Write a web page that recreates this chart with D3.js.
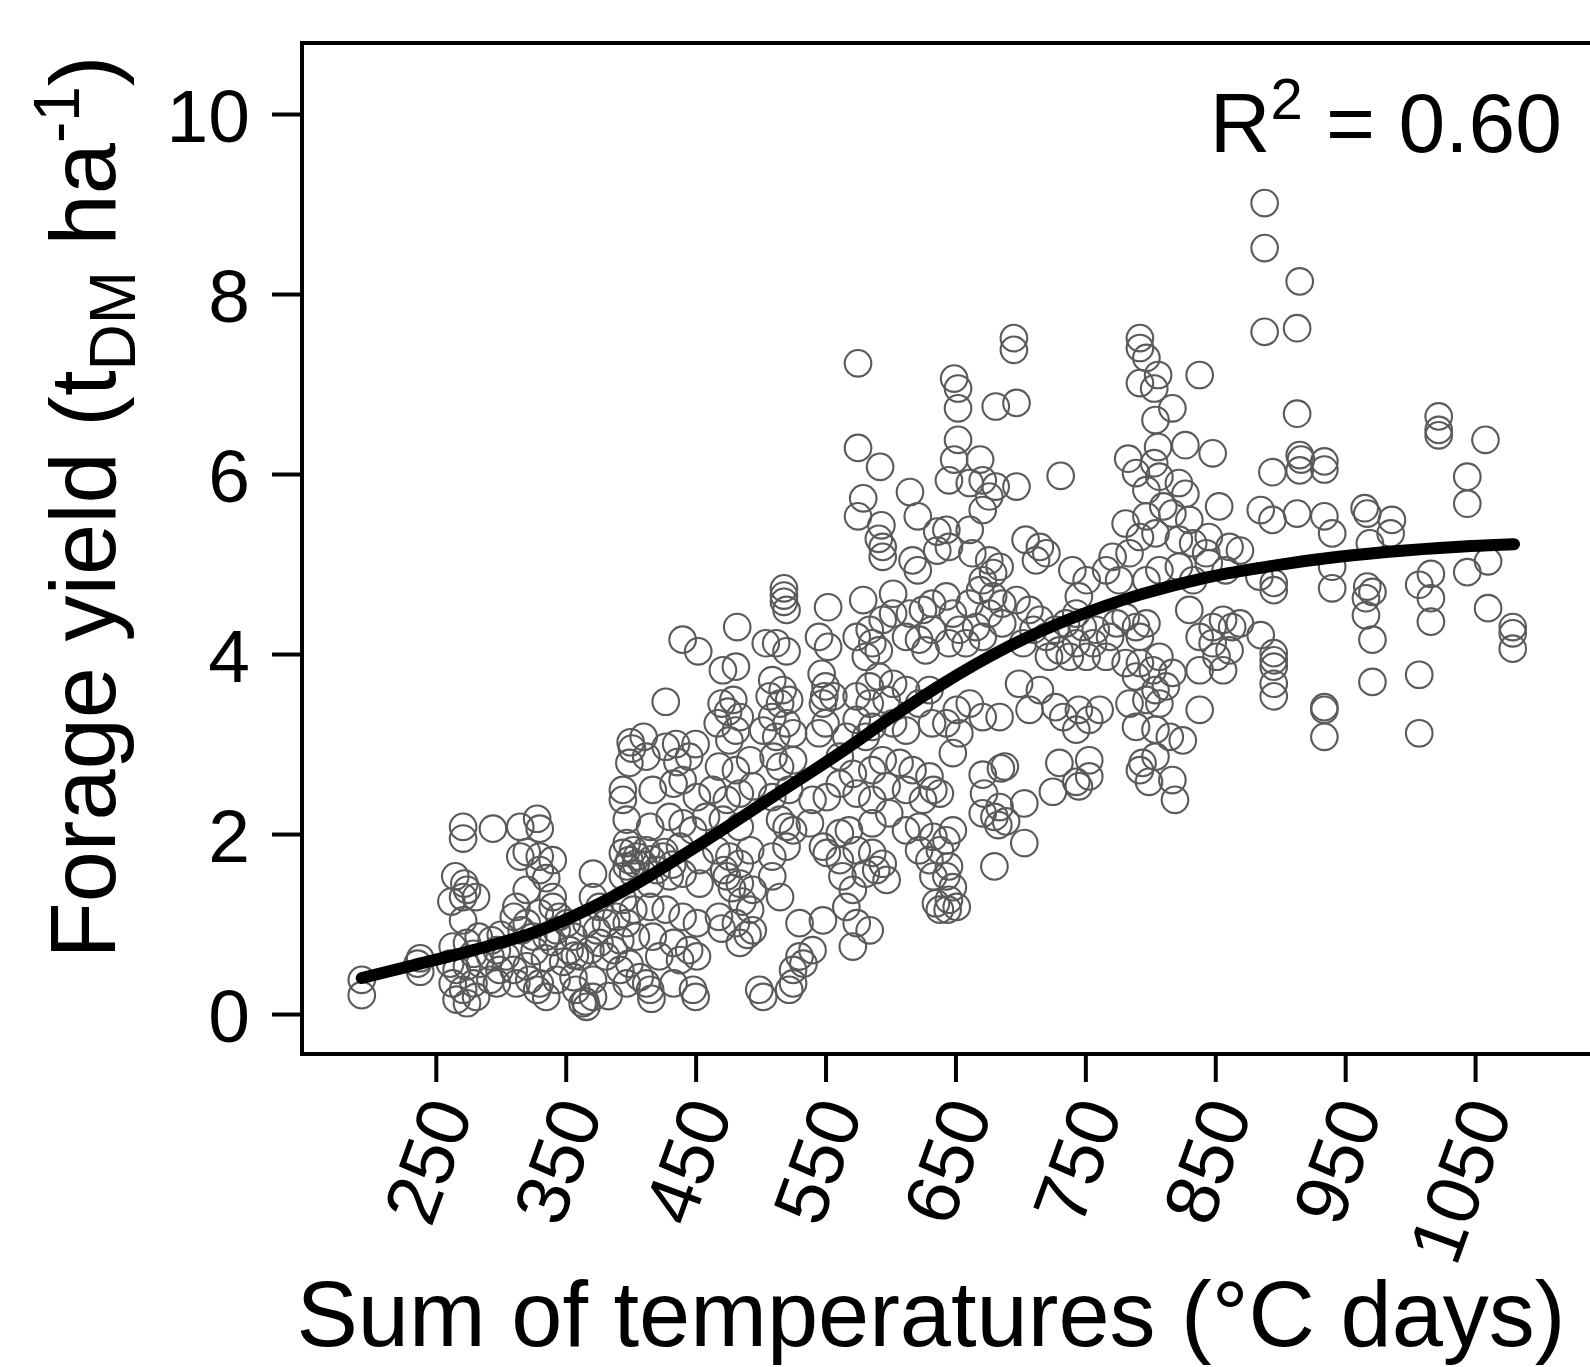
<!DOCTYPE html>
<html><head><meta charset="utf-8">
<script src="https://cdn.jsdelivr.net/npm/d3@7"></script>
<style>html,body{margin:0;padding:0;background:#fff;} svg{display:block;}</style>
</head><body>
<script>
const xTicks = [250,350,450,550,650,750,850,950,1050];
const yTicks = [0,2,4,6,8,10];
const r2Text = "0.60";

// observations: [sum of temperatures (°C days), forage yield (t DM/ha)]
const obs = [
[193,0.38],[193,0.21],[238,0.62],[238,0.47],[236,0.56],
[263,0.75],[274,0.79],[279,0.67],[261,0.56],[266,0.49],[274,0.53],[284,0.56],[292,0.64],[297,0.71],[304,0.64],[299,0.49],[263,0.34],[271,0.27],[279,0.34],[266,0.16],[274,0.12],[281,0.19],[292,0.38],[297,0.34],[310,0.49],[312,0.34],[320,0.53],[322,0.38],[330,0.34],[335,0.19],[328,0.27],[343,0.38],[356,0.41],[358,0.27],[363,0.12],[371,0.19],[371,0.38],[381,0.64],[387,0.71],[392,0.49],[397,0.34],[399,0.56],
[365,0.14],[366,0.08],[383,0.2],[357,0.65],[293,0.82],[300,0.88],[283,0.86],[316,0.93],[416,0.17],
[326,0.70],[334,0.62],[340,0.80],[348,0.58],
[271,2.08],[271,1.95],[294,2.06],[315,2.08],[328,2.17],[330,2.06],
[265,1.53],[272,1.45],[274,1.38],[271,1.30],[281,1.30],[262,1.25],[271,1.04],
[315,1.75],[320,1.80],[330,1.75],[340,1.71],[330,1.60],[335,1.51],[320,1.38],[340,1.30],
[310,1.08],[320,1.01],[330,1.12],[340,1.19],[345,1.08],[325,0.86],[335,0.86],[343,0.93],[312,1.19],
[371,1.56],[371,1.30],[376,1.19],[366,1.01],[374,0.93],[381,1.01],[389,1.08],[376,0.79],[369,0.71],[361,0.64],[353,0.71],[356,0.86],[351,1.01],
[394,2.49],[394,2.38],[397,2.16],[399,2.79],[397,1.90],[394,1.79],[402,1.82],[399,1.71],[404,1.67],[397,1.64],[394,1.53],[402,1.56],[394,1.27],[402,1.16],[397,1.01],[404,0.86],[392,0.82],
[405,1.75],[410,1.66],[416,1.72],[420,1.60],[426,1.80],[432,1.66],
[412,2.86],[436,2.80],[445,2.86],[468,2.75],[481,2.71],[492,2.82],[510,2.86],[515,2.75],[525,2.82],[561,2.86],[571,2.67],[586,2.71],[594,2.82],[607,2.79],[617,2.71],[630,2.64],
[417,2.49],[433,2.56],[440,2.60],[451,2.41],[463,2.49],[474,2.38],[484,2.45],[494,2.53],[509,2.41],[522,2.49],[540,2.38],[551,2.41],[561,2.56],[574,2.45],[586,2.38],[597,2.53],[612,2.49],[625,2.38],[633,2.49],
[415,2.08],[430,2.19],[440,2.12],[448,2.04],[458,2.19],[471,2.16],[484,2.08],[515,2.16],[520,2.08],[525,2.04],[538,2.12],[561,2.01],[568,2.04],[586,2.12],[599,2.23],[612,2.04],[622,2.08],[633,1.97],
[412,1.82],[425,1.75],[438,1.86],[453,1.71],[466,1.82],[476,1.75],[484,1.67],[492,1.82],[509,1.75],[520,1.86],[548,1.86],[551,1.79],[561,1.71],[574,1.82],[586,1.79],[594,1.67],[622,1.82],[630,1.71],
[415,1.45],[430,1.53],[440,1.56],[453,1.45],[474,1.53],[484,1.45],[494,1.38],[509,1.53],[515,1.30],[563,1.53],[571,1.38],[581,1.56],[589,1.60],[597,1.49],[633,1.53],[635,1.23],
[472,1.60],[478,1.40],[486,1.25],[490,0.88],[470,0.95],
[415,1.19],[427,1.16],[440,1.08],[451,1.01],[468,1.08],[481,1.01],[492,1.16],[494,0.93],[530,1.01],[548,1.04],[566,1.19],[574,1.01],[584,0.93],[638,1.16],
[417,0.86],[433,0.79],[445,0.71],[422,0.64],[438,0.60],[451,0.64],[484,0.79],[540,0.71],[571,0.75],[530,0.64],[525,0.49],[533,0.56],
[412,0.34],[415,0.27],[433,0.34],[448,0.27],[450,0.19],[499,0.27],[502,0.19],[522,0.27],[525,0.34],[407,0.41],
[579,5.73],[575,5.53],[615,5.80],[621,5.53],[593,5.43],[591,5.28],[594,5.19],[594,5.08],[617,5.04],[621,4.93],[636,5.36],[636,5.15],
[518,4.73],[518,4.65],[518,4.58],[520,4.49],[552,4.52],[579,4.60],[602,4.67],
[440,4.16],[452,4.03],[482,4.30],[512,4.12],[520,4.03],[504,4.12],[545,4.19],[552,4.08],
[584,4.27],[594,4.38],[602,4.45],[586,4.12],[591,4.04],[581,3.97],[574,4.19],
[615,4.45],[625,4.49],[632,4.56],[612,4.19],[622,4.16],[632,4.27],[627,4.04],
[427,3.47],
[471,3.82],[481,3.86],[470,3.45],[479,3.49],[475,3.36],[484,3.30],[467,3.23],[481,3.15],[476,3.04],
[509,3.71],[517,3.60],[507,3.53],[515,3.45],[522,3.49],[509,3.30],[520,3.23],[502,3.15],[512,3.08],[525,3.12],
[547,3.78],[550,3.64],[549,3.53],[548,3.45],[556,3.53],[550,3.23],[545,3.12],
[574,3.53],[584,3.64],[591,3.75],[584,3.45],[597,3.49],[602,3.67],[612,3.60],[574,3.27],[586,3.19],[602,3.23],[612,3.15],[622,3.45],[630,3.60],[632,3.23],[566,3.08],[581,3.08],
[410,3.08],[435,3.00],[427,2.97],[450,3.00],[400,3.02],[401,2.95],
[645,5.93],[661,5.90],[671,5.93],[681,5.86],[697,5.86],[789,6.01],[797,5.82],[807,5.97],[822,5.90],[827,5.78],[810,5.64],[853,5.64],[861,5.19],[845,5.30],[830,5.49],[817,5.56],[797,5.53],[781,5.45],[792,5.30],[804,5.34],[822,5.27],[833,5.23],[843,5.12],
[643,5.38],[645,5.19],[661,5.38],[671,5.60],[676,5.75],[663,5.12],[676,5.04],[684,4.97],[679,4.90],[671,4.82],[704,5.27],[715,5.19],[712,5.04],[720,5.12],
[643,4.64],[648,4.45],[661,4.56],[669,4.71],[679,4.64],[686,4.56],[676,4.45],[666,4.30],[653,4.27],[645,4.12],[658,4.12],[671,4.19],[686,4.34],[697,4.60],[707,4.49],[715,4.38],[710,4.27],[720,4.19],[702,4.12],[727,4.27],[735,4.34],[743,4.45],[745,4.64],[751,4.82],[740,4.93],[766,4.93],[771,5.08],[784,5.12],[776,4.82],[797,4.82],[807,4.93],[822,4.97],[833,4.82],[845,5.01],[858,4.93],
[748,4.30],[758,4.27],[769,4.19],[774,4.34],[781,4.41],[789,4.30],[797,4.34],[792,4.19],[756,4.12],[743,4.12],[730,4.04],[722,3.97],[738,3.97],[751,3.97],[766,3.97],[781,3.90],[792,3.90],[802,3.82],[807,3.97],[817,3.79],[812,3.64],[804,3.60],[789,3.75],[784,3.45],[797,3.49],[807,3.45],[830,4.49],[838,4.19],[848,4.30],[856,4.38],[863,4.30],[848,4.12],[861,4.04],[851,3.97],[838,3.82],[856,3.82],[838,3.38],
[699,3.67],[715,3.60],[707,3.38],[727,3.41],[733,3.30],[745,3.38],[753,3.27],[761,3.38],[743,3.16],[684,3.30],[671,3.30],[661,3.45],[651,3.38],[643,3.23],[653,3.12],[789,3.19],[804,3.16],[815,3.08],[825,3.04],
[894,6.02],[915,6.04],[934,6.05],[1044,5.97],[1044,5.67],
[885,5.60],[894,5.49],[913,5.56],[934,5.53],[940,5.34],
[965,5.62],[967,5.56],[986,5.49],[985,5.34],[969,5.23],
[869,5.15],
[884,4.86],[895,4.79],[895,4.71],[940,4.97],[940,4.73],
[967,4.75],[971,4.69],[966,4.62],[966,4.43],[971,4.16],
[1007,4.77],[1016,4.89],[1016,4.62],[1016,4.36],
[1044,4.91],[1060,5.03],[1060,4.51],
[1079,4.30],[1079,4.23],[1079,4.06],
[869,4.34],[885,4.21],
[895,4.01],[895,3.93],[895,3.86],[895,3.67],[895,3.53],
[934,3.41],[934,3.38],[934,3.08],
[971,3.69],[1007,3.77],[1007,3.12],
[695,7.51],[695,7.38],[649,7.06],[652,6.95],[652,6.73],[652,6.38],[649,6.16],[681,6.75],[697,6.79],[669,6.16],[731,5.98],
[792,7.51],[792,7.40],[797,7.29],[806,7.10],[792,7.01],[803,6.95],[817,6.73],[804,6.60],[806,6.30],[827,6.32],[848,6.23],[838,7.10],[783,6.17],[803,6.12],
[888,9.01],[888,8.51],[915,8.14],[888,7.58],[913,7.62],[913,6.67],[915,6.21],[916,6.16],[934,6.14],[1022,6.64],[1022,6.49],[1022,6.43],[1058,6.38],
[575,7.23],[575,6.29],[592,6.08],
[648,2.90],[671,2.66],[672,2.45],[685,2.73],[688,2.75],[671,2.23],[680,2.19],[683,2.10],[689,2.14],[684,2.30],[703,2.34],[703,1.90],[680,1.64],[725,2.47],[730,2.79],[743,2.58],[745,2.53],[753,2.64],[753,2.82],[794,2.79],[799,2.58],[792,2.71],[804,2.86],[817,2.60],[819,2.38],
[648,2.04],[643,1.93],[645,1.64],[643,1.53],[648,1.41],[645,1.27],[644,1.16],[651,1.19],[638,1.82],[638,2.45]
];

// fitted curve
const curveX = [193,238,279,330,368,407,458,509,561,599,638,689,740,792,843,894,945,996,1047,1080];
const curveY = [0.40,0.56,0.71,0.93,1.17,1.47,1.93,2.41,2.90,3.28,3.65,4.07,4.40,4.66,4.85,4.98,5.08,5.15,5.20,5.22];

const W = 1590, H = 1367;
const FONT = "'Liberation Sans', Arial, Helvetica, sans-serif";
const svg = d3.select("body").append("svg").attr("width", W).attr("height", H)
  .style("font-family", FONT);

const x = d3.scaleLinear().domain([147, 1140]).range([302, 1592]);
const y = d3.scaleLinear().domain([-0.444, 10.789]).range([1054, 43]);

// points
svg.append("g").selectAll("circle").data(obs).join("circle")
  .attr("cx", d => x(d[0])).attr("cy", d => y(d[1])).attr("r", 13.3)
  .attr("fill", "none").attr("stroke", "#5a5a5a").attr("stroke-width", 2.1);

// curve
const line = d3.line().x(d => x(d[0])).y(d => y(d[1])).curve(d3.curveMonotoneX);
svg.append("path").datum(curveX.map((v, i) => [v, curveY[i]]))
  .attr("d", line).attr("fill", "none").attr("stroke", "#000")
  .attr("stroke-width", 12).attr("stroke-linecap", "round").attr("stroke-linejoin", "round");

// box
const [x0, x1] = x.range(), [y0, y1] = y.range();
svg.append("rect").attr("x", x0).attr("y", y1).attr("width", x1 - x0).attr("height", y0 - y1)
  .attr("fill", "none").attr("stroke", "#000").attr("stroke-width", 4);

// y axis
const gy = svg.append("g").attr("transform", `translate(${x0},0)`)
  .call(d3.axisLeft(y).tickValues(yTicks).tickSize(30).tickPadding(22).tickFormat(d3.format("d")));
gy.select(".domain").remove();
gy.selectAll("line").attr("stroke", "#000").attr("stroke-width", 4);
gy.selectAll("text").attr("font-size", 75).attr("font-family", FONT).attr("fill", "#000").attr("dy", "0.36em");

// x axis
const gx = svg.append("g").attr("transform", `translate(0,${y0})`)
  .call(d3.axisBottom(x).tickValues(xTicks).tickSize(28).tickFormat(d3.format("d")));
gx.select(".domain").remove();
gx.selectAll("line").attr("stroke", "#000").attr("stroke-width", 4);
gx.selectAll("text").attr("font-size", 75).attr("font-family", FONT).attr("fill", "#000")
  .attr("x", 0).attr("y", 0).attr("dy", "0.36em").attr("text-anchor", "end")
  .attr("transform", "translate(12,48) rotate(-70)");

// axis titles
const yt = svg.append("text").attr("transform", "translate(115,507) rotate(-90)")
  .attr("text-anchor", "middle").attr("font-size", 92).attr("fill", "#000");
yt.append("tspan").text("Forage yield (t");
yt.append("tspan").attr("font-size", 64).attr("dy", 20).text("DM");
yt.append("tspan").attr("dy", -20).text(" ha");
yt.append("tspan").attr("font-size", 64).attr("dy", -36).text("-1");
yt.append("tspan").attr("dy", 36).text(")");

svg.append("text").attr("x", 931).attr("y", 1346).attr("text-anchor", "middle")
  .attr("font-size", 92).attr("fill", "#000").text("Sum of temperatures (°C days)");

const r2 = svg.append("text").attr("x", 1562).attr("y", 152).attr("text-anchor", "end")
  .attr("font-size", 84).attr("fill", "#000");
r2.append("tspan").text("R");
r2.append("tspan").attr("font-size", 58).attr("dy", -33).text("2");
r2.append("tspan").attr("dy", 33).text(" = " + r2Text);
</script>
</body></html>
